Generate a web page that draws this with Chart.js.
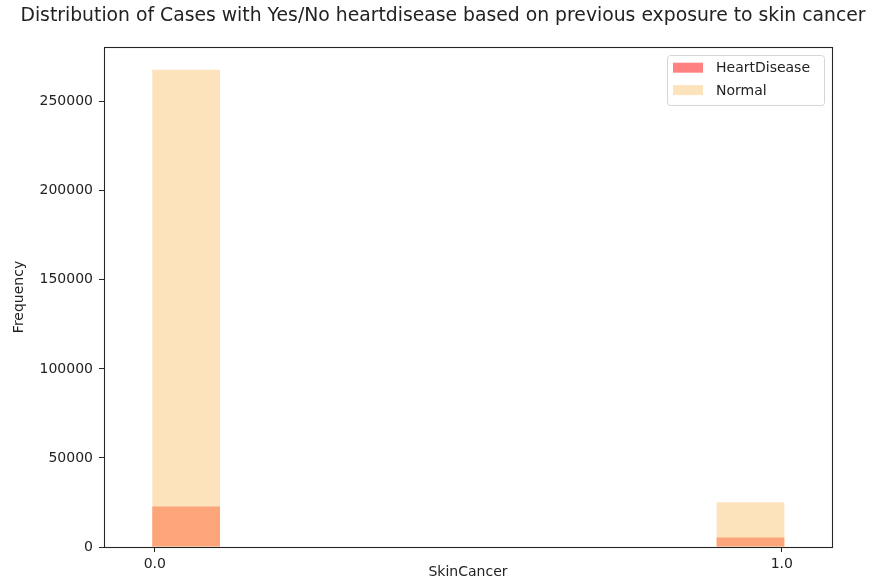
<!DOCTYPE html>
<html>
<head>
<meta charset="utf-8">
<script src="https://cdn.jsdelivr.net/npm/chart.js@4.4.1/dist/chart.umd.min.js"></script>
<style>
  html, body { margin: 0; padding: 0; background: #fff; }
  #wrap { width: 873px; height: 585px; }
</style>
</head>
<body>
<div id="wrap"><canvas id="hist" width="873" height="585"></canvas></div>
<script>
// histogram bins (10 bins over SkinCancer 0..1), counts per bin
const binCenters = [0.05, 0.15, 0.25, 0.35, 0.45, 0.55, 0.65, 0.75, 0.85, 0.95];
const heartDiseaseCounts = [22700, 0, 0, 0, 0, 0, 0, 0, 0, 5300];
const normalCounts = [267900, 0, 0, 0, 0, 0, 0, 0, 0, 25100];
const xTicks = [0, 1];
const yTicks = [0, 50000, 100000, 150000, 200000, 250000];

const colors = {
  heart: "#fda57a",
  heartLegend: "#ff8080",
  normal: "#fce3bc",
  text: "#222222",
  spine: "#262626",
};

const FONT = "'DejaVu Sans', sans-serif";

function points(vals) {
  return binCenters.map((x, i) => ({ x: x, y: vals[i] }));
}

// black box round the axes, like matplotlib spines
const framePlugin = {
  id: "frame",
  afterDatasetsDraw(chart) {
    const { ctx, chartArea: a } = chart;
    ctx.save();
    ctx.strokeStyle = colors.spine;
    ctx.lineWidth = 1.1;
    ctx.strokeRect(Math.round(a.left) + 0.5, Math.round(a.top) + 0.5,
      Math.round(a.right - a.left), Math.round(a.bottom - a.top));
    ctx.restore();
  },
};

// legend in the upper right corner of the plot
const boxLegend = {
  id: "boxLegend",
  afterDraw(chart) {
    const { ctx, chartArea: a } = chart;
    const items = [
      { label: chart.data.datasets[0].label, color: colors.heartLegend },
      { label: chart.data.datasets[1].label, color: colors.normal },
    ];
    ctx.save();
    ctx.font = "14px " + FONT;
    const textW = Math.max(...items.map((it) => ctx.measureText(it.label).width));
    const w = textW + 63;
    const h = 50;
    const x = Math.round(a.right - 8 - w);
    const y = Math.round(a.top + 8);
    ctx.beginPath();
    ctx.roundRect(x + 0.5, y + 0.5, w, h, 3);
    ctx.fillStyle = "rgba(255,255,255,0.8)";
    ctx.fill();
    ctx.strokeStyle = "#d6d6d6";
    ctx.lineWidth = 1;
    ctx.stroke();
    items.forEach((it, i) => {
      const cy = y + 12.7 + i * 22.4;
      ctx.fillStyle = it.color;
      ctx.fillRect(x + 6, cy - 5, 30, 10);
      ctx.fillStyle = colors.text;
      ctx.textBaseline = "middle";
      ctx.fillText(it.label, x + 49, cy + 1);
    });
    ctx.restore();
  },
};

const sharedGrid = { display: true, drawOnChartArea: false, drawTicks: true, tickLength: 5, offset: false, color: colors.spine };

new Chart(document.getElementById("hist"), {
  type: "bar",
  data: {
    datasets: [
      {
        label: "HeartDisease",
        data: points(heartDiseaseCounts),
        backgroundColor: colors.heart,
        borderWidth: 0,
      },
      {
        label: "Normal",
        data: points(normalCounts),
        backgroundColor: colors.normal,
        borderWidth: 0,
      },
    ],
  },
  options: {
    responsive: false,
    animation: false,
    layout: { padding: { left: 13, right: 0, top: 0, bottom: 0 } },
    datasets: {
      bar: { grouped: false, barPercentage: 1.08, categoryPercentage: 1, inflateAmount: 0 },
    },
    plugins: {
      legend: { display: false },
      tooltip: { enabled: false },
      title: {
        display: true,
        text: "Distribution of Cases with Yes/No heartdisease based on previous exposure to skin cancer",
        color: colors.text,
        font: { family: FONT, size: 18.8, weight: "normal" },
        padding: { top: 5, bottom: 19.4 },
      },
    },
    scales: {
      x: {
        type: "linear",
        min: -0.081,
        max: 1.08,
        offset: false,
        afterBuildTicks: (s) => { s.ticks = xTicks.map((v) => ({ value: v })); },
        afterFit: (s) => { s.height = 38; },
        ticks: {
          color: colors.text,
          font: { family: FONT, size: 14 },
          padding: 4,
          maxRotation: 0,
          callback: (v) => Number(v).toFixed(1),
        },
        grid: sharedGrid,
        border: { display: false },
        title: {
          display: true,
          text: "SkinCancer",
          color: colors.text,
          font: { family: FONT, size: 14 },
          padding: { top: 0, bottom: 4 },
        },
      },
      y: {
        type: "linear",
        min: 0,
        max: 280700,
        afterBuildTicks: (s) => { s.ticks = yTicks.map((v) => ({ value: v })); },
        afterFit: (s) => { s.width = 91; },
        ticks: {
          color: colors.text,
          font: { family: FONT, size: 14 },
          padding: 6,
          callback: (v) => String(v),
        },
        grid: sharedGrid,
        border: { display: false },
        title: {
          display: true,
          text: "Frequency",
          color: colors.text,
          font: { family: FONT, size: 14 },
          padding: { top: -2, bottom: 4 },
        },
      },
      // empty right-hand margin, keeps the title centred like the figure
      pad: {
        type: "linear",
        position: "right",
        display: true,
        afterFit: (s) => { s.width = 41; },
        ticks: { display: false },
        grid: { display: false },
        border: { display: false },
      },
    },
  },
  plugins: [framePlugin, boxLegend],
});
</script>
</body>
</html>
